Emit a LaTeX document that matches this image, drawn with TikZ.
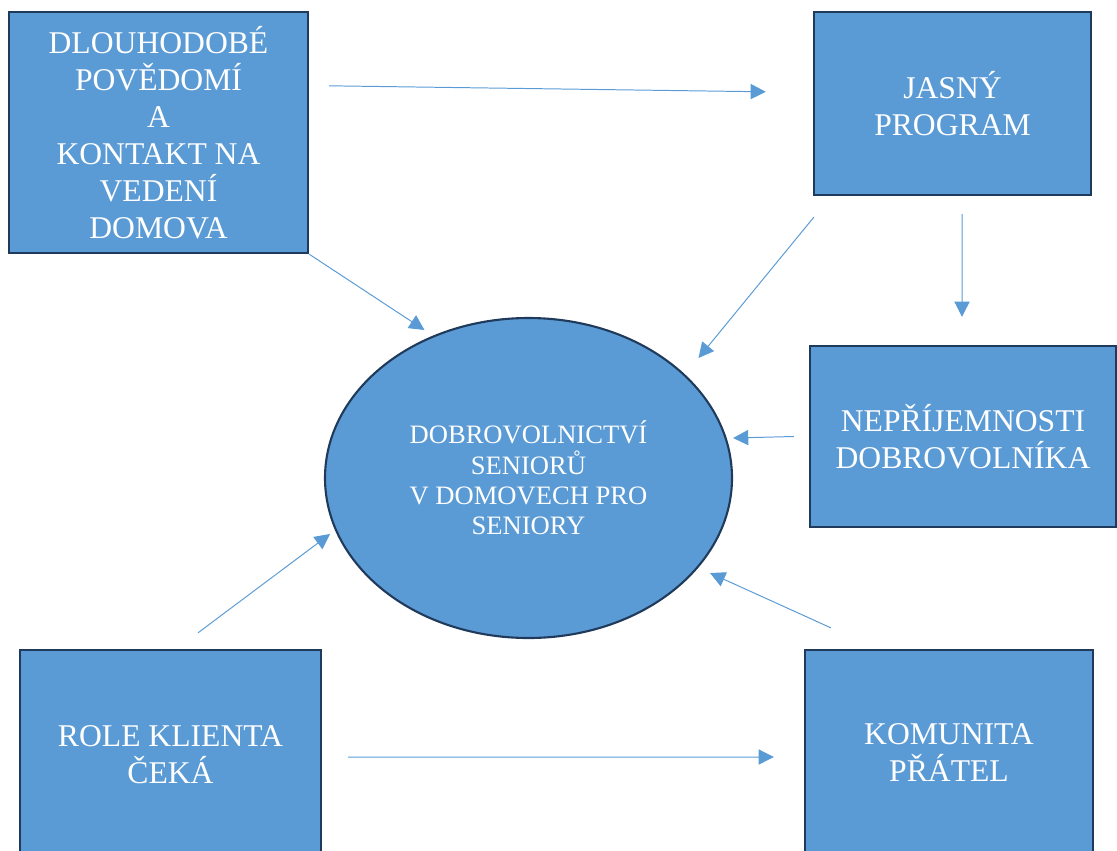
\documentclass[tikz,border=0pt]{standalone}
\usepackage{fontspec}
\setmainfont{Liberation Serif}
\usepackage{tikz}
\usetikzlibrary{arrows.meta,shapes.geometric}
\definecolor{wordblue}{HTML}{5B9BD5}
\definecolor{wordnavy}{HTML}{1F3A5A}
\tikzset{
  box/.style={draw=wordnavy, line width=1.7pt, fill=wordblue, text=white, align=center,
    inner sep=0pt, font=\fontsize{22.5}{26.3}\selectfont},
  oval/.style={ellipse, draw=wordnavy, line width=1.5pt, fill=wordblue, text=white, align=center,
    inner sep=0pt, font=\fontsize{18.9}{21.5}\selectfont},
  arr/.style={-{Triangle[length=0.38cm,width=0.38cm]}, wordblue, line width=0.7pt}
}

\begin{document}
\begin{tikzpicture}[x=0.025cm,y=-0.025cm]
\useasboundingbox (0,0) rectangle (1117,850);
\clip (0,0) rectangle (1117,850);
\node[box, minimum width=299*0.025cm, minimum height=241*0.025cm] (dlouho) at (158.5,132.5)
  {DLOUHODOBÉ\\POVĚDOMÍ\\A\\KONTAKT NA\\VEDENÍ\\DOMOVA};
\node[box, minimum width=277*0.025cm, minimum height=183*0.025cm] (jasny) at (952.5,103.5)
  {JASNÝ\\PROGRAM};
\node[box, minimum width=306*0.025cm, minimum height=181*0.025cm] (neprij) at (963,436.5)
  {NEPŘÍJEMNOSTI\\DOBROVOLNÍKA};
\node[box, minimum width=301*0.025cm, minimum height=210*0.025cm] (role) at (170.5,755)
  {ROLE KLIENTA\\ČEKÁ};
\node[box, minimum width=288*0.025cm, minimum height=205*0.025cm] (komunita) at (949,752.5)
  {KOMUNITA\\PŘÁTEL};
\node[oval, minimum width=407*0.025cm, minimum height=320*0.025cm] (dobro) at (528.5,478)
  {DOBROVOLNICTVÍ\\SENIORŮ\\V DOMOVECH PRO\\SENIORY};

\draw[arr] ([shift={(20,75)}]dlouho.north east) -- ([shift={(-47,81)}]jasny.north west);
\draw[arr] (dlouho.south east) -- ([shift={(-104,-148)}]dobro.center);
\draw[arr] ([shift={(1,21)}]jasny.south west) -- ([shift={(170,-120)}]dobro.center);
\draw[arr] ([shift={(9.5,18)}]jasny.south) -- ([shift={(-1,-28)}]neprij.north);
\draw[arr] ([shift={(-15,0)}]neprij.west) -- ([shift={(0,-40)}]dobro.east);
\draw[arr] ([shift={(27.5,-16)}]role.north) -- ([shift={(-198.5,56)}]dobro.center);
\draw[arr] ([shift={(26,2)}]role.east) -- ([shift={(-30,4.5)}]komunita.west);
\draw[arr] ([shift={(27,-21)}]komunita.north west) -- ([shift={(181.5,95)}]dobro.center);
\end{tikzpicture}
\end{document}
